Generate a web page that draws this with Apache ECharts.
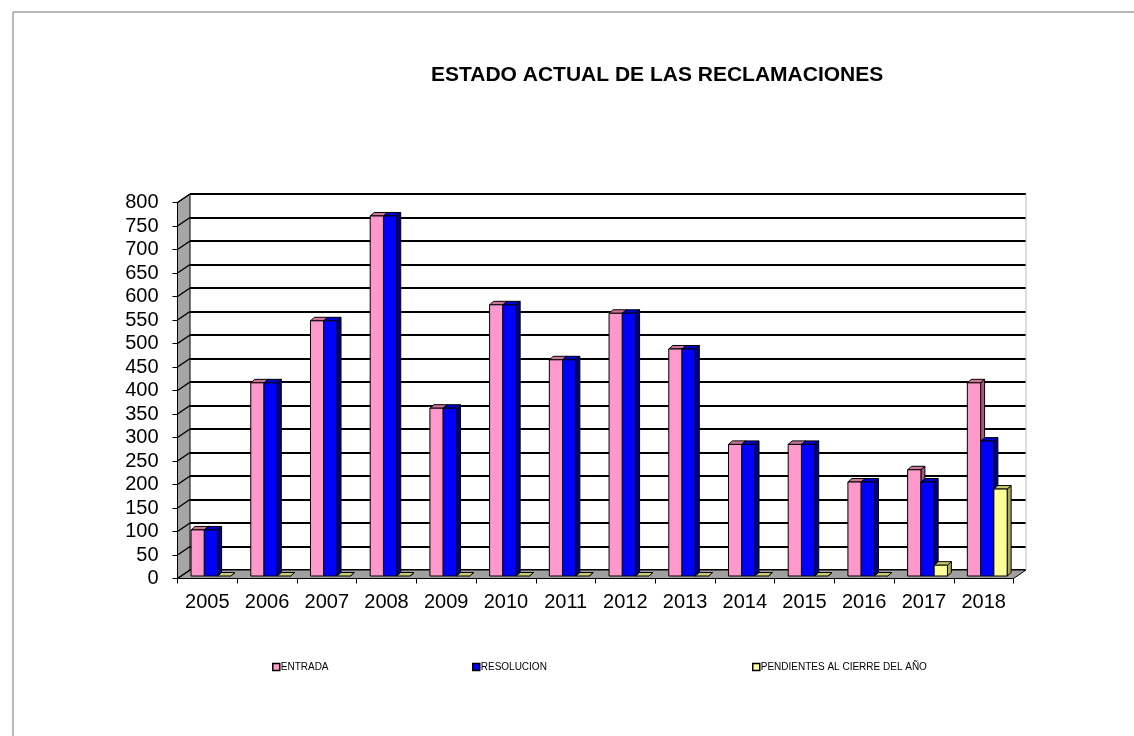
<!DOCTYPE html>
<html>
<head>
<meta charset="utf-8">
<script src="https://cdn.jsdelivr.net/npm/echarts@6/dist/echarts.min.js"></script>
<style>
html,body{margin:0;padding:0;background:#fff;}
#c{width:1134px;height:736px;}
</style>
</head>
<body>
<div id="c"></div>
<script>
// ---- data ----
const years = ['2005','2006','2007','2008','2009','2010','2011','2012','2013','2014','2015','2016','2017','2018'];
const entrada    = [98, 411, 543, 766, 357, 577, 460, 559, 483, 280, 280, 200, 226, 411];
const resolucion = [98, 411, 543, 766, 357, 577, 460, 559, 483, 280, 280, 200, 200, 287];
const pendientes = [0, 0, 0, 0, 0, 0, 0, 0, 0, 0, 0, 0, 23, 185];
const seriesNames = ['ENTRADA', 'RESOLUCION', 'PENDIENTES AL CIERRE DEL AÑO'];
const yMin = 0, yMax = 800, yStep = 50;
const yTicks = [];
for (let v = yMin; v <= yMax; v += yStep) yTicks.push(v);

// ---- style / geometry ----
const FONT = "'Liberation Sans', Arial, sans-serif";
const BACK = [12.5, -8.5];   // depth offset of back wall
const BAR_OFF = [3.6, -2.5]; // bar front-face offset
const BAR_DEPTH = [4, -3.5];
const palettes = [
  {front:'#FF99CC', top:'#CC7799', side:'#AA5580'},
  {front:'#0000FF', top:'#0000CC', side:'#000088'},
  {front:'#FFFF99', top:'#CCCC77', side:'#A8A860'}
];

function barRenderer(k) {
  return function (params, api) {
    const idx = api.value(0), v = api.value(1);
    const t = api.coord([idx, v]);
    const b = api.coord([idx, 0]);
    const band = api.size([1, 0])[0];
    const bw = band / 4.5;
    const x0 = t[0] - band / 2 + bw * 0.75 + k * bw + BAR_OFF[0];
    const yT = t[1] + BAR_OFF[1], yB = b[1] + BAR_OFF[1];
    const dx = BAR_DEPTH[0], dy = BAR_DEPTH[1];
    const pal = palettes[k];
    const st = {stroke:'#000', lineWidth:1};
    const ch = [
      {type:'polygon', shape:{points:[[x0+bw,yT],[x0+bw+dx,yT+dy],[x0+bw+dx,yB+dy],[x0+bw,yB]]},
        style:Object.assign({fill:pal.side}, st)},
      {type:'polygon', shape:{points:[[x0,yT],[x0+bw,yT],[x0+bw+dx,yT+dy],[x0+dx,yT+dy]]},
        style:Object.assign({fill:pal.top}, st)}
    ];
    if (yB - yT > 0.5) {
      ch.push({type:'rect', shape:{x:x0, y:yT, width:bw, height:yB-yT},
        style:Object.assign({fill:pal.front}, st)});
    }
    return {type:'group', children:ch};
  };
}

function wallsRenderer(params, api) {
  const band = api.size([1, 0])[0];
  const p0 = api.coord([0, yMin]);
  const pT = api.coord([0, yMax]);
  const pR = api.coord([years.length - 1, yMin]);
  const L = p0[0] - band / 2, R = pR[0] + band / 2, B = p0[1], T = pT[1];
  const bx = BACK[0], by = BACK[1];
  const ch = [
    {type:'polygon', shape:{points:[[L,B],[L,T],[L+bx,T+by],[L+bx,B+by]]},
      style:{fill:'#A6A6A6', stroke:'#000', lineWidth:1}},
    {type:'polygon', shape:{points:[[L,B],[R,B],[R+bx,B+by],[L+bx,B+by]]},
      style:{fill:'#A0A0A0', stroke:'#000', lineWidth:1}},
    {type:'line', shape:{x1:R+bx, y1:T+by, x2:R+bx, y2:B+by},
      style:{stroke:'#BBBBBB', lineWidth:1}}
  ];
  yTicks.forEach(function (v) {
    const y = api.coord([0, v])[1];
    ch.push({type:'line', shape:{x1:L, y1:y, x2:L+bx, y2:y+by},
      style:{stroke:'#000', lineWidth:1.5}});
  });
  return {type:'group', children:ch};
}

const chart = echarts.init(document.getElementById('c'), null, {renderer:'canvas'});

const gridFront = {left:177.5, top:202.5, width:836, height:376};
const gridBack = {left:177.5 + BACK[0], top:202.5 + BACK[1], width:836, height:376};

const legendPos = [272, 472, 752];

chart.setOption({
  backgroundColor:'#fff',
  animation:false,
  title:{
    text:'ESTADO ACTUAL DE LAS RECLAMACIONES',
    left:426, top:60,
    textStyle:{fontFamily:FONT, fontSize:21, fontWeight:'bold', color:'#000'}
  },
  legend: seriesNames.map(function (n, i) {
    return {
      data:[n], left:legendPos[i], top:662, padding:0,
      icon:'rect', itemWidth:7, itemHeight:7, itemGap:4,
      itemStyle:{borderColor:'#000', borderWidth:1.5},
      textStyle:{fontFamily:FONT, fontSize:10, color:'#000', padding:[0,0,0,-4]},
      selectedMode:false
    };
  }),
  grid:[
    Object.assign({containLabel:false}, gridFront),
    Object.assign({containLabel:false}, gridBack)
  ],
  xAxis:[
    {type:'category', gridIndex:0, data:years, boundaryGap:true,
      axisLine:{show:true, lineStyle:{color:'#000', width:1}},
      axisTick:{show:true, interval:0, length:5, lineStyle:{color:'#000'}},
      axisLabel:{interval:0, hideOverlap:false, fontFamily:FONT, fontSize:20, color:'#000', margin:14},
      splitLine:{show:false}},
    {type:'category', gridIndex:1, data:years, boundaryGap:true,
      axisLine:{show:false}, axisTick:{show:false}, axisLabel:{show:false}, splitLine:{show:false}}
  ],
  yAxis:[
    {type:'value', gridIndex:0, min:yMin, max:yMax, interval:yStep,
      axisLine:{show:true, lineStyle:{color:'#000', width:1}},
      axisTick:{show:true, length:5, lineStyle:{color:'#000'}},
      axisLabel:{fontFamily:FONT, fontSize:20, color:'#000', margin:19},
      splitLine:{show:false}},
    {type:'value', gridIndex:1, min:yMin, max:yMax, interval:yStep,
      axisLine:{show:false}, axisTick:{show:false}, axisLabel:{show:false},
      splitLine:{show:true, lineStyle:{color:'#000', width:2}}}
  ],
  series:[
    {type:'custom', name:'_walls', xAxisIndex:0, yAxisIndex:0, z:2, silent:true,
      renderItem:wallsRenderer, data:[[0, 0]], encode:{x:0, y:1}},
    {type:'custom', name:seriesNames[0], xAxisIndex:0, yAxisIndex:0, z:3,
      itemStyle:{color:palettes[0].front},
      renderItem:barRenderer(0), data:entrada.map(function(v,i){return [i,v];}), encode:{x:0, y:1}},
    {type:'custom', name:seriesNames[1], xAxisIndex:0, yAxisIndex:0, z:3,
      itemStyle:{color:palettes[1].front},
      renderItem:barRenderer(1), data:resolucion.map(function(v,i){return [i,v];}), encode:{x:0, y:1}},
    {type:'custom', name:seriesNames[2], xAxisIndex:0, yAxisIndex:0, z:3,
      itemStyle:{color:palettes[2].front},
      renderItem:barRenderer(2), data:pendientes.map(function(v,i){return [i,v];}), encode:{x:0, y:1}}
  ],
  graphic:[
    {type:'line', shape:{x1:13, y1:12, x2:13, y2:736}, style:{stroke:'#A0A0A0', lineWidth:1.5}, silent:true},
    {type:'line', shape:{x1:13, y1:12, x2:1134, y2:12}, style:{stroke:'#A0A0A0', lineWidth:1.5}, silent:true}
  ]
});
</script>
</body>
</html>
